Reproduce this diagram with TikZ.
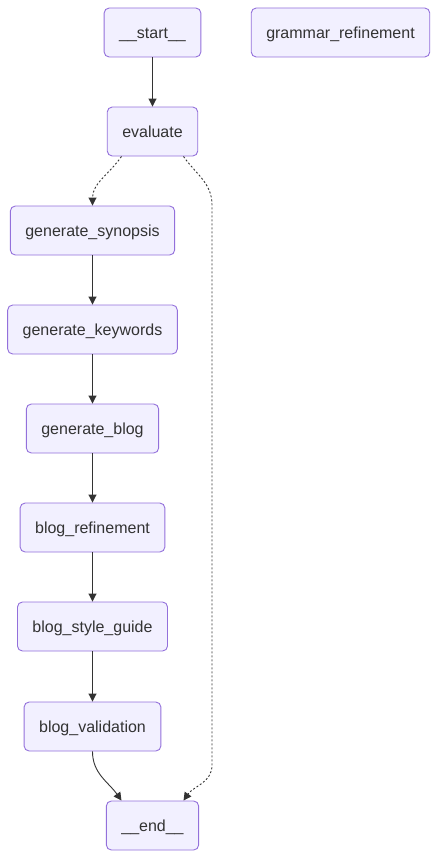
\documentclass[tikz,border=0pt]{standalone}
\usepackage{fontspec}
\setmainfont{Liberation Sans}
\usetikzlibrary{arrows.meta,positioning,calc}
\definecolor{nodefill}{HTML}{F2F0FF}
\definecolor{nodeline}{HTML}{9370DB}
\definecolor{inkgray}{HTML}{333333}

\begin{document}
\begin{tikzpicture}[
  x=1pt, y=-1pt,
  stage/.style={rectangle, rounded corners=5pt, draw=nodeline, fill=nodefill, line width=0.9pt,
    minimum height=49pt, inner xsep=15pt, text height=12.5pt, text depth=1.5pt,
    text=inkgray, font=\fontsize{16}{19}\selectfont},
  arrow/.style={-{Triangle[length=8pt,width=8pt]}, draw=inkgray, line width=0.9pt},
  cond/.style={arrow, dash pattern=on 2pt off 2pt}
]
\useasboundingbox (0,0) rectangle (438,859);
\node[stage] (start) at (152.5,32.5) {\_\_start\_\_};
\node[stage] (grammar) at (340.5,32.5) {grammar\_refinement};
\node[stage] (eval) at (152.5,131.5) {evaluate};
\node[stage] (synopsis) at (92.5,230.5) {generate\_synopsis};
\node[stage] (keywords) at (92.5,329.5) {generate\_keywords};
\node[stage] (blog) at (92.5,428.5) {generate\_blog};
\node[stage] (refine) at (92.5,527.5) {blog\_refinement};
\node[stage] (style) at (92.5,626.5) {blog\_style\_guide};
\node[stage] (valid) at (92.5,726.5) {blog\_validation};
\node[stage] (end) at (152.5,825.5) {\_\_end\_\_};
\coordinate (rtop) at (212,205);
\coordinate (rbot) at (212,765);
\draw[arrow] (start) -- (eval);
\draw[cond] ([xshift=-31pt]eval.south) to[out=-125,in=90] (synopsis.north);
\draw[cond] ([xshift=31pt]eval.south) to[out=-55,in=90] (rtop) -- (rbot)
  to[out=-90,in=55] ([xshift=31pt]end.north);
\draw[arrow] (synopsis) -- (keywords);
\draw[arrow] (keywords) -- (blog);
\draw[arrow] (blog) -- (refine);
\draw[arrow] (refine) -- (style);
\draw[arrow] (style) -- (valid);
\draw[arrow] (valid.south) to[out=-90,in=125] ([xshift=-31pt]end.north);
\end{tikzpicture}
\end{document}
